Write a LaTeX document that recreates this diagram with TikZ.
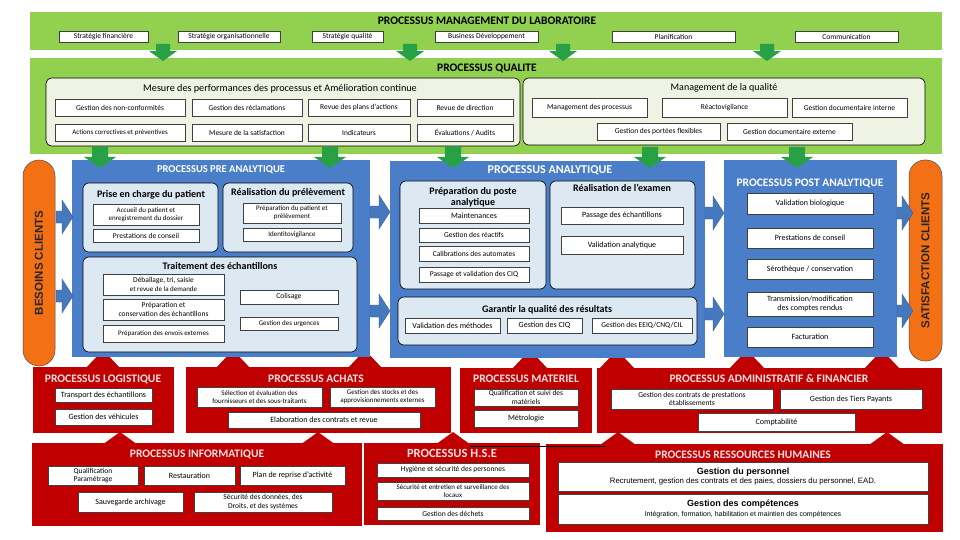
\documentclass[tikz,border=0pt]{standalone}
\usepackage{fontspec}
\setmainfont{Carlito}
\newfontfamily\arialf{Liberation Sans}
\usetikzlibrary{shadows}
\definecolor{bandgreen}{RGB}{146,208,80}
\definecolor{arrgreen}{RGB}{40,160,70}
\definecolor{panelgreen}{RGB}{238,243,228}
\definecolor{procblue}{RGB}{74,126,200}
\definecolor{panelblue}{RGB}{220,232,242}
\definecolor{arrblue}{RGB}{70,120,190}
\definecolor{procred}{RGB}{192,0,0}
\definecolor{redtxt}{RGB}{250,225,225}
\definecolor{pillorange}{RGB}{244,112,20}
\tikzset{
  wbox/.style={draw=black!75,line width=0.4pt,fill=white,inner sep=1pt,align=center,
    font=\fontsize{7.5}{8.5}\selectfont,
    drop shadow={shadow xshift=0.9pt,shadow yshift=-0.9pt,fill=black!60,opacity=1}},
  f7/.style={font=\fontsize{7}{8}\selectfont},
  f75/.style={font=\fontsize{7.5}{8.5}\selectfont},
  f8/.style={font=\fontsize{8}{9}\selectfont},
  zone/.style={inner sep=0pt,outer sep=0pt},
  gband/.style={zone,fill=bandgreen},
  gpanel/.style={zone,fill=panelgreen,draw=black,line width=0.6pt,rounded corners=6pt},
  bproc/.style={zone,fill=procblue},
  bpanel/.style={zone,fill=panelblue,draw=black,line width=0.6pt,rounded corners=6pt},
  rproc/.style={zone,fill=procred},
  pill/.style={zone,fill=pillorange,draw=black!70,line width=0.5pt,rounded corners=16pt},
  ttl/.style={font=\bfseries\fontsize{11.5}{13}\selectfont,inner sep=0pt},
  bttl/.style={font=\bfseries\fontsize{10.5}{12}\selectfont,text=white,inner sep=0pt},
  rttl/.style={font=\bfseries\fontsize{11.5}{13}\selectfont,text=redtxt,inner sep=0pt},
  pttl/.style={font=\bfseries\fontsize{10}{11}\selectfont,inner sep=0pt,align=center},
  vtxt/.style={font=\arialf\bfseries\fontsize{11.5}{13}\selectfont,text=black!85,rotate=90,inner sep=0pt}
}
\newcommand{\bx}[7][]{\node[wbox,minimum width={(#5-#3)*1pt},minimum height={(#6-#4)*1pt},#1] (#2) at ({(#3+#5)/2},{(#4+#6)/2}) {#7};}
\newcommand{\zn}[7][]{\node[#2,minimum width={(#5-#3)*1pt},minimum height={(#6-#4)*1pt},#1] (#7) at ({(#3+#5)/2},{(#4+#6)/2}) {};}
% green down arrow: x, stem top, head base, tip, stem half width
\newcommand{\garr}[5]{\fill[arrgreen] ({#1-#5},#2) -- ({#1+#5},#2) -- ({#1+#5},#3) -- ({#1+2*#5},#3) -- (#1,#4) -- ({#1-2*#5},#3) -- ({#1-#5},#3) -- cycle;}
% red up arrow: x, base y, tip y
\newcommand{\rarr}[3]{\fill[procred] ({#1-18},#2) -- (#1,#3) -- ({#1+18},#2) -- cycle;}
% blue right arrow: x start, x tip, y
\newcommand{\barr}[3]{\filldraw[fill=arrblue,draw=arrblue!75!black,line width=0.3pt] (#1,{#3-6}) -- ({#2-11},{#3-6}) -- ({#2-11},{#3-17}) -- (#2,#3) -- ({#2-11},{#3+17}) -- ({#2-11},{#3+6}) -- (#1,{#3+6}) -- cycle;}
\begin{document}
\begin{tikzpicture}[x=1pt,y=-1pt]
\useasboundingbox (0,0) rectangle (960,540);
\fill[white] (0,0) rectangle (960,540);

% ===== green bands =====
\zn{gband}{30}{12}{942}{50}{mgmt}
\node[ttl] (mgmtT) at (487,21) {PROCESSUS MANAGEMENT DU LABORATOIRE};
\bx{t1}{59}{31}{148}{42}{Stratégie financière}
\bx{t2}{178}{31}{280}{42}{Stratégie organisationnelle}
\bx{t3}{312}{31}{383}{42}{Stratégie qualité}
\bx{t4}{435}{31}{538}{42}{Business Développement}
\bx{t5}{612}{31}{735}{42}{Planification}
\bx{t6}{795}{31}{898}{42}{Communication}

\zn{gband}{30}{58}{942}{154}{qual}
\node[ttl] (qualT) at (487,68) {PROCESSUS QUALITE};
\zn{gpanel}{46}{78}{520}{146}{mes}
\node[inner sep=0pt,font=\fontsize{10.2}{12}\selectfont] (mesT) at (280,89) {Mesure des performances des processus et Amélioration continue};
\bx{q1}{55}{99}{185}{116}{Gestion des non-conformités}
\bx{q2}{192}{99}{302}{116}{Gestion des réclamations}
\bx{q3}{308}{99}{410}{116}{Revue des plans d'actions}
\bx{q4}{417}{99}{513}{116}{Revue de direction}
\bx[f7]{q5}{55}{124}{185}{141}{Actions correctives et préventives}
\bx{q6}{192}{124}{302}{141}{Mesure de la satisfaction}
\bx{q7}{308}{124}{410}{141}{Indicateurs}
\bx{q8}{417}{124}{513}{141}{Évaluations / Audits}
\zn{gpanel}{523}{78}{925}{145}{mq}
\node[inner sep=0pt,font=\fontsize{10}{12}\selectfont] (mqT) at (724,88) {Management de la qualité};
\bx{m1}{532}{98}{647}{117}{Management des processus}
\bx{m2}{662}{98}{787}{117}{Réactovigilance}
\bx{m3}{792}{98}{907}{117}{Gestion documentaire interne}
\bx{m4}{597}{123}{720}{140}{Gestion des portées flexibles}
\bx{m5}{727}{123}{852}{140}{Gestion documentaire externe}

% ===== red up arrows (behind) =====
\rarr{103}{369}{350}
\rarr{233}{369}{350}
\rarr{365}{369}{350}
\rarr{530}{369}{350}
\rarr{617}{369}{350}
\rarr{747}{369}{350}
\rarr{882}{369}{350}
\rarr{120}{445}{432}
\rarr{318}{445}{432}
\rarr{453}{445}{432}
\rarr{618}{445}{432}
\rarr{887}{445}{432}

% ===== orange pills =====
\zn{pill}{23}{160}{55}{366}{bes}
\node[vtxt] (besT) at (bes) {BESOINS CLIENTS};
\zn{pill}{909}{160}{942}{361}{sat}
\node[vtxt] (satT) at (sat) {SATISFACTION CLIENTS};

% ===== PRE ANALYTIQUE =====
\zn{bproc}{72}{160}{370}{357}{pre}
\node[bttl] (preT) at (221,170) {PROCESSUS PRE ANALYTIQUE};
\zn{bpanel}{83}{183}{218}{252}{pp1}
\node[pttl] (pp1T) at (151,195) {Prise en charge du patient};
\bx[f7]{p1}{93}{204}{199}{225}{Accueil du patient et\\enregistrement du dossier}
\bx{p2}{93}{229}{199}{242}{Prestations de conseil}
\zn{bpanel}{223}{183}{353}{252}{pp2}
\node[pttl] (pp2T) at (288,193) {Réalisation du prélèvement};
\bx[f7]{p3}{243}{203}{341}{223}{Préparation du patient et\\prélèvement}
\bx[f7]{p4}{243}{228}{341}{241}{Identitovigilance}
\zn{bpanel}{83}{257}{357}{352}{pp3}
\node[pttl] (pp3T) at (220,266) {Traitement des échantillons};
\bx{p5}{103}{274}{224}{295}{Déballage, tri, saisie\\{\fontsize{7}{8}\selectfont et revue de la demande}}
\bx{p6}{103}{299}{224}{320}{Préparation et\\conservation des échantillons}
\bx[f7]{p7}{103}{325}{224}{342}{Préparation des envois externes}
\bx{p8}{240}{290}{338}{304}{Colisage}
\bx[f7]{p9}{240}{317}{338}{330}{Gestion des urgences}

% ===== ANALYTIQUE =====
\zn{bproc}{390}{161}{705}{358}{ana}
\node[bttl,font=\bfseries\fontsize{12}{14}\selectfont] (anaT) at (550,170) {PROCESSUS ANALYTIQUE};
\zn{bpanel}{400}{181}{546}{289}{ap1}
\node[pttl,font=\bfseries\fontsize{10}{11}\selectfont] (ap1T) at (473,197) {Préparation du poste\\analytique};
\bx[f8]{a1}{419}{208}{529}{223}{Maintenances}
\bx[f75]{a2}{419}{228}{529}{242}{Gestion des réactifs}
\bx[f75]{a3}{419}{246}{529}{261}{Calibrations des automates}
\bx[f75]{a4}{419}{267}{529}{282}{Passage et validation des CIQ}
\zn{bpanel}{550}{181}{695}{289}{ap2}
\node[pttl,font=\bfseries\fontsize{10}{11}\selectfont] (ap2T) at (622,188) {Réalisation de l'examen};
\bx[f8]{a5}{561}{207}{683}{224}{Passage des échantillons}
\bx[f8]{a6}{561}{236}{683}{254}{Validation analytique}
\zn{bpanel}{398}{297}{697}{345}{ap3}
\node[pttl,font=\bfseries\fontsize{10}{11}\selectfont] (ap3T) at (547,310) {Garantir la qualité des résultats};
\bx[f8]{a7}{405}{318}{500}{333}{Validation des méthodes}
\bx[f8]{a8}{507}{318}{582}{333}{Gestion des CIQ}
\bx[f75]{a9}{592}{318}{692}{333}{Gestion des EEIQ/CNQ/CIL}

% ===== POST ANALYTIQUE =====
\zn{bproc}{724}{160}{897}{357}{post}
\node[bttl,font=\bfseries\fontsize{11.5}{13}\selectfont] (postT) at (810,183) {PROCESSUS POST ANALYTIQUE};
\bx[f8]{s1}{747}{193}{873}{214}{Validation biologique}
\bx[f8]{s2}{747}{228}{873}{248}{Prestations de conseil}
\bx[f8]{s3}{747}{259}{873}{279}{Sérothèque / conservation}
\bx[f8]{s4}{747}{292}{873}{316}{Transmission/modification\\des comptes rendus}
\bx[f8]{s5}{747}{327}{873}{347}{Facturation}

% ===== red row 1 =====
\zn{rproc}{33}{367}{174}{433}{log}
\node[rttl] (logT) at (103,379) {PROCESSUS LOGISTIQUE};
\bx[f8]{l1}{55}{388}{152}{402}{Transport des échantillons}
\bx[f8]{l2}{55}{409}{152}{425}{Gestion des véhicules}
\zn{rproc}{186}{367}{451}{433}{ach}
\node[rttl] (achT) at (316,379) {PROCESSUS ACHATS};
\bx[f7]{c1}{197}{387}{322}{407}{Sélection et évaluation des\\fournisseurs et des sous-traitants}
\bx[f7]{c2}{330}{387}{435}{407}{Gestion des stocks et des\\approvisionnements externes}
\bx[f8]{c3}{228}{412}{420}{428}{Elaboration des contrats et revue}
\zn{rproc}{460}{368}{592}{433}{mat}
\node[rttl] (matT) at (526,379) {PROCESSUS MATERIEL};
\bx[f75]{e1}{474}{389}{578}{406}{Qualification et suivi des\\matériels}
\bx[f8]{e2}{474}{410}{578}{427}{Métrologie}
\zn{rproc}{597}{368}{942}{433}{adm}
\node[rttl] (admT) at (769,379) {PROCESSUS ADMINISTRATIF \& FINANCIER};
\bx[f75]{d1}{611}{389}{773}{409}{Gestion des contrats de prestations\\établissements}
\bx[f8]{d2}{780}{389}{922}{409}{Gestion des Tiers Payants}
\bx[f8]{d3}{698}{413}{855}{431}{Comptabilité}

% ===== red row 2 =====
\zn{rproc}{32}{443}{362}{526}{inf}
\node[rttl] (infT) at (197,454) {PROCESSUS INFORMATIQUE};
\bx[f75,align=left]{i1}{48}{466}{138}{485}{Qualification\\Paramétrage}
\bx[f8]{i2}{144}{466}{235}{485}{Restauration}
\bx[f8]{i3}{240}{466}{345}{485}{Plan de reprise d'activité}
\bx[f8]{i4}{78}{492}{183}{512}{Sauvegarde archivage}
\bx[f75]{i5}{194}{492}{332}{512}{Sécurité des données, des\\Droits, et des systèmes}
\zn{rproc}{364}{443}{540}{525}{hse}
\node[rttl,font=\bfseries\fontsize{12.5}{14}\selectfont] (hseT) at (452,453) {PROCESSUS H.S.E};
\bx[f75]{h1}{377}{463}{529}{477}{Hygiène et sécurité des personnes}
\bx[f7]{h2}{377}{482}{529}{500}{Sécurité et entretien et surveillance des\\locaux}
\bx[f75]{h3}{377}{507}{529}{520}{Gestion des déchets}
\zn{rproc}{546}{444}{943}{532}{rh}
\node[rttl] (rhT) at (743,455) {PROCESSUS RESSOURCES HUMAINES};
\bx{r1}{558}{462}{928}{491}{{\arialf\bfseries\fontsize{9}{10}\selectfont Gestion du personnel}\\[1pt]{\arialf\fontsize{7.8}{9}\selectfont Recrutement, gestion des contrats et des paies, dossiers du personnel, EAD.}}
\bx{r2}{558}{494}{928}{524}{{\arialf\bfseries\fontsize{9}{10}\selectfont Gestion des compétences}\\[1pt]{\arialf\fontsize{7}{8}\selectfont Intégration, formation, habilitation et maintien des compétences}}
\coordinate (hl) at (470,446);
\coordinate (hr) at (605,446);
\draw[black,line width=0.5pt] (hl) -- (hr);

% ===== green arrows =====
\garr{163}{44}{51}{61}{7}
\garr{410}{44}{51}{61}{7}
\garr{563}{44}{51}{61}{7}
\garr{767}{44}{51}{61}{7}
\garr{100}{147}{157}{168}{8}
\garr{330}{147}{157}{168}{8}
\garr{453}{147}{157}{168}{8}
\garr{650}{147}{157}{168}{8}
\garr{797}{147}{157}{168}{8}

% ===== blue arrows =====
\barr{56}{73}{217}
\barr{56}{73}{296}
\barr{370}{390}{212}
\barr{370}{390}{311}
\barr{705}{724}{213}
\barr{705}{724}{314}
\barr{897}{913}{213}
\barr{897}{913}{311}
\end{tikzpicture}
\end{document}
